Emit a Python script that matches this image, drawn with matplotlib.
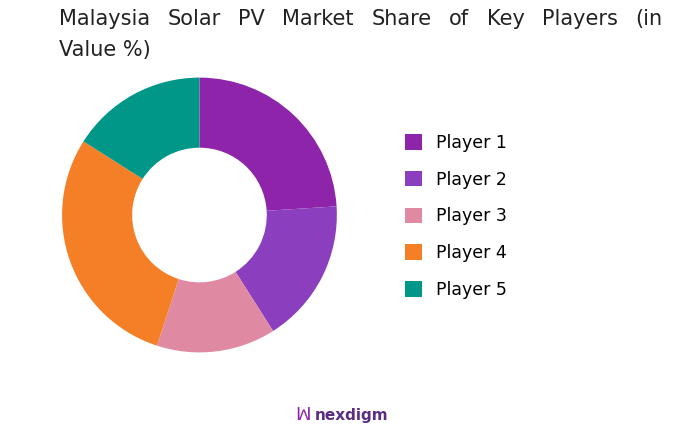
import matplotlib
matplotlib.use('Agg')
import matplotlib.pyplot as plt

players = ['Player 1', 'Player 2', 'Player 3', 'Player 4', 'Player 5']
shares = [24, 17, 14, 29, 16]
colors = ['#8E24AA', '#8B3FBE', '#DF8AA2', '#F57F26', '#009688']

plt.rcParams['font.family'] = ['DejaVu Sans']
fig = plt.figure(figsize=(6.89, 4.37), dpi=100)
ax = fig.add_axes([0.028, 0.115, 0.523, 0.786])
wedges, _ = ax.pie(shares, colors=colors, startangle=90, counterclock=False,
                   wedgeprops=dict(width=0.51, linewidth=0))
ax.set_aspect('equal')

# justified title line
words = 'Malaysia Solar PV Market Share of Key Players (in'.split()
x0, x1 = 0.085, 0.962
r = fig.canvas.get_renderer()
ts = [fig.text(0, 0.98, w, fontsize=15, color='#222222', va='top') for w in words]
widths = [t.get_window_extent(r).width / fig.bbox.width for t in ts]
gap = (x1 - x0 - sum(widths)) / (len(words) - 1)
x = x0
for t, w in zip(ts, widths):
    t.set_x(x)
    x += w + gap
fig.text(0.085, 0.908, 'Value %)', fontsize=15, color='#222222', va='top')

fig.legend(wedges, players, loc='center left', bbox_to_anchor=(0.565, 0.505),
           frameon=False, fontsize=12.5, handlelength=1.0, handleheight=1.0,
           labelspacing=1.08, handletextpad=0.8)

fig.text(0.44, 0.05, 'ꟽ', fontsize=13, color='#8E24AA', ha='center', va='center')
fig.text(0.51, 0.05, 'nexdigm', fontsize=11, color='#5B2C83', ha='center', va='center',
         fontweight='bold')

fig.savefig('out.png', dpi=100)
